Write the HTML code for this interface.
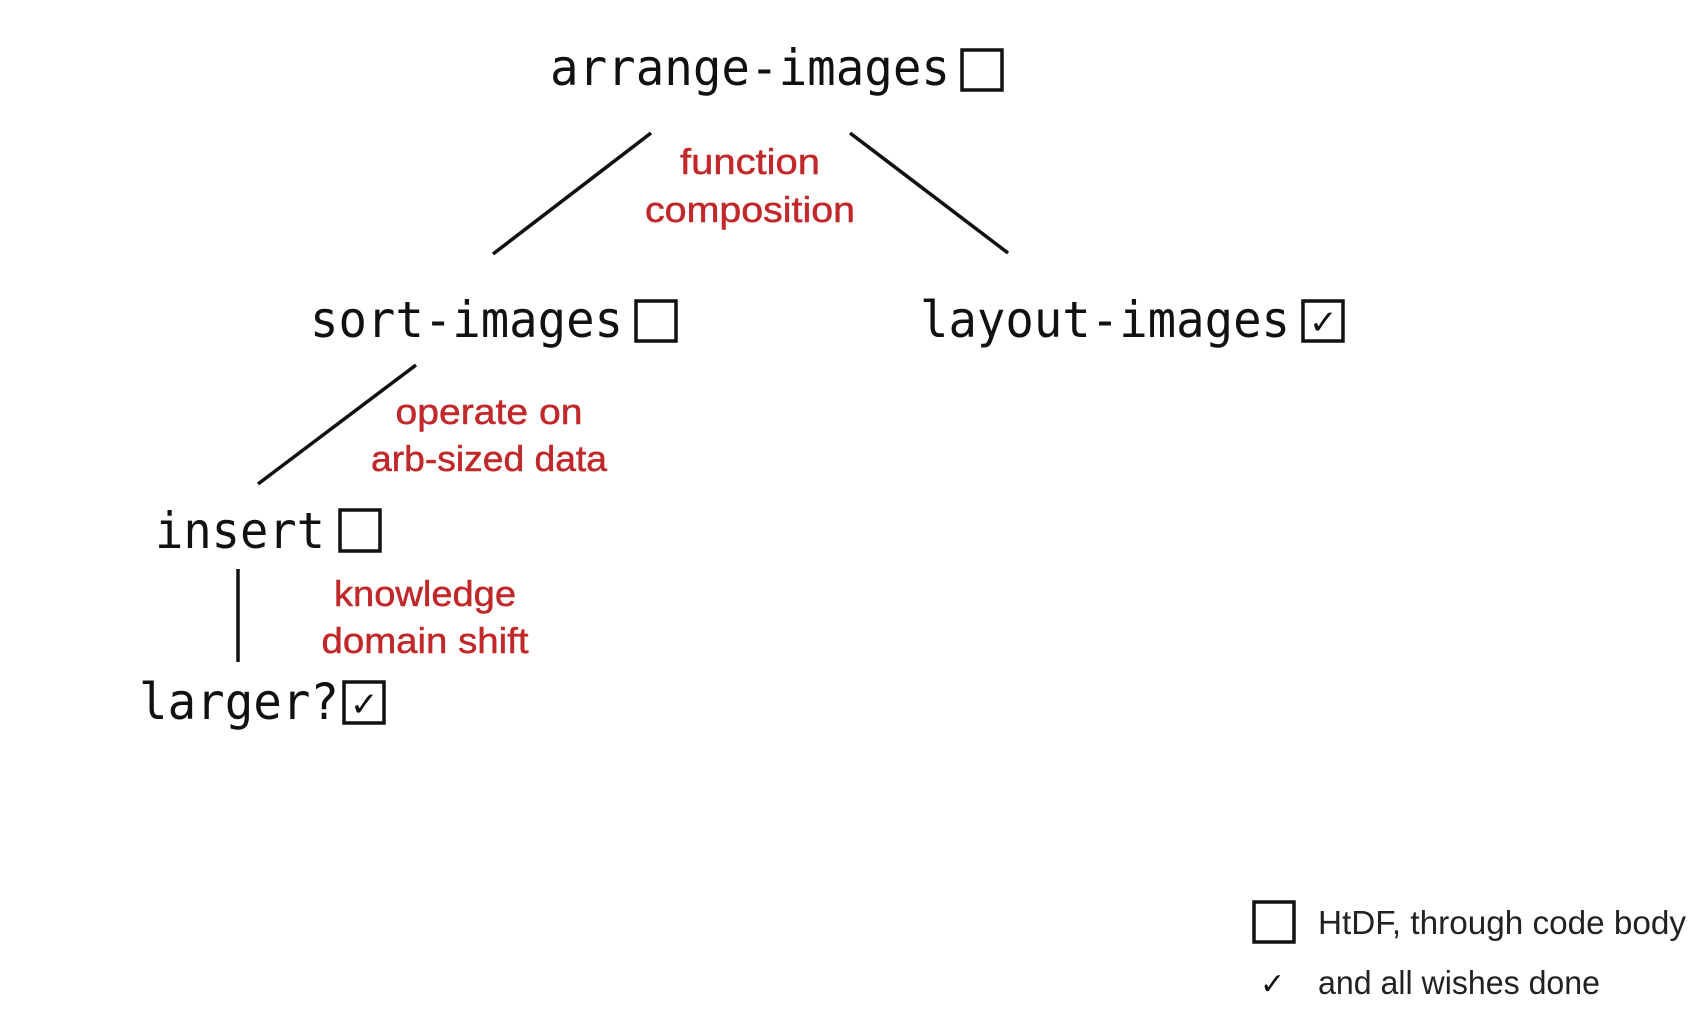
<!DOCTYPE html>
<html><head><meta charset="utf-8"><style>
html,body{margin:0;padding:0;background:#fff;}
svg{display:block;}
.m{font-family:"DejaVu Sans Mono","Liberation Mono",monospace;font-size:50px;fill:#111;}
.r{font-family:"Liberation Sans",sans-serif;font-size:36px;fill:#c0282a;text-anchor:middle;stroke:#c0282a;stroke-width:0.5;}
.l{font-family:"Liberation Sans",sans-serif;font-size:33px;fill:#222;}
.c{font-family:"DejaVu Sans",sans-serif;font-weight:bold;fill:#111;}
</style></head><body>
<svg width="1707" height="1009" viewBox="0 0 1707 1009" xmlns="http://www.w3.org/2000/svg">
<g stroke="#111" stroke-width="3.5" fill="none">
<line x1="651" y1="133" x2="493" y2="254"/>
<line x1="850" y1="133" x2="1008" y2="253"/>
<line x1="416" y1="365" x2="258" y2="484"/>
<line x1="238" y1="569" x2="238" y2="662"/>
<rect x="962" y="50" width="40" height="40"/>
<rect x="636" y="301" width="40" height="40"/>
<rect x="1303" y="301" width="40" height="40"/>
<rect x="340" y="510" width="40" height="41"/>
<rect x="344" y="682" width="40" height="41"/>
<rect x="1254" y="902" width="40" height="40"/>
</g>
<text class="m" x="550" y="85" textLength="400" lengthAdjust="spacingAndGlyphs">arrange-images</text>
<text class="m" x="310" y="337" textLength="313" lengthAdjust="spacingAndGlyphs">sort-images</text>
<text class="m" x="920" y="337" textLength="370" lengthAdjust="spacingAndGlyphs">layout-images</text>
<text class="m" x="155" y="548" textLength="170" lengthAdjust="spacingAndGlyphs">insert</text>
<text class="m" x="139" y="719" textLength="200" lengthAdjust="spacingAndGlyphs">larger?</text>
<text class="c" x="1309" y="334" style="font-size:34px">✓</text>
<text class="c" x="350" y="716" style="font-size:34px">✓</text>
<text class="r" x="750" y="174" textLength="140" lengthAdjust="spacingAndGlyphs">function</text>
<text class="r" x="750" y="222" textLength="210" lengthAdjust="spacingAndGlyphs">composition</text>
<text class="r" x="489" y="424" textLength="187" lengthAdjust="spacingAndGlyphs">operate on</text>
<text class="r" x="489" y="471" textLength="236" lengthAdjust="spacingAndGlyphs">arb-sized data</text>
<text class="r" x="425" y="606" textLength="182" lengthAdjust="spacingAndGlyphs">knowledge</text>
<text class="r" x="425" y="653" textLength="207" lengthAdjust="spacingAndGlyphs">domain shift</text>
<text class="l" x="1318" y="934" textLength="368" lengthAdjust="spacingAndGlyphs">HtDF, through code body</text>
<text class="c" x="1260" y="994" style="font-size:30px">✓</text>
<text class="l" x="1318" y="994" textLength="282" lengthAdjust="spacingAndGlyphs">and all wishes done</text>
</svg>
</body></html>
